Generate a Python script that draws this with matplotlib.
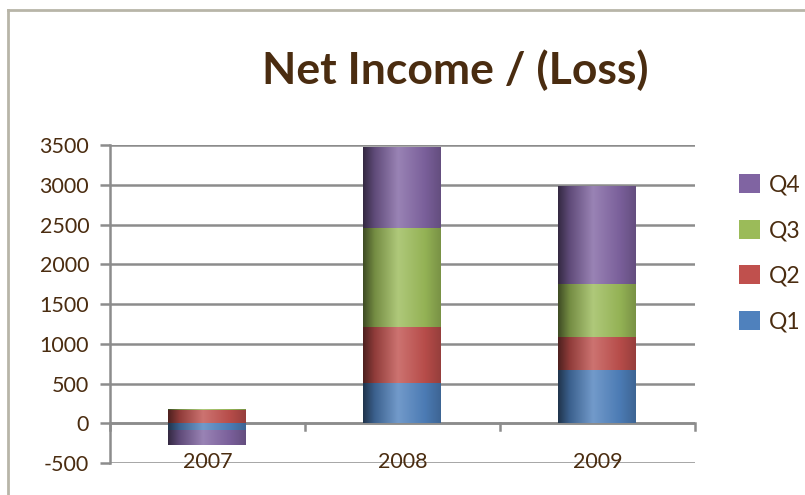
import numpy as np
import matplotlib
matplotlib.use("Agg")
import matplotlib.pyplot as plt
from matplotlib.colors import LinearSegmentedColormap, to_rgb
from matplotlib.lines import Line2D

plt.rcParams['font.family'] = ['Lato', 'DejaVu Sans']
plt.rcParams['axes.unicode_minus'] = False

years = ["2007", "2008", "2009"]
q1 = [-80, 510, 665]
q2 = [165, 700, 420]
q3 = [20, 1245, 670]
q4 = [-195, 1015, 1230]

series = [("Q1", q1, "#4F81BD"), ("Q2", q2, "#C0504D"),
          ("Q3", q3, "#9BBB59"), ("Q4", q4, "#8064A2")]

text_col = "#4A2C10"
grid_col = "#8C8C8C"

fig = plt.figure(figsize=(8.05, 4.95), dpi=100)
ax = fig.add_axes([0.1366, 0.0646, 0.7267, 0.6424])

x = np.arange(len(years))
width = 0.4
pos_base = np.zeros(len(years))
neg_base = np.zeros(len(years))


def shade_cmap(color):
    r, g, b = to_rgb(color)
    base = np.array([r, g, b])
    light = np.clip(base + (1 - base) * 0.2, 0, 1)
    stops = [(0.0, base * 0.4), (0.15, base * 0.75), (0.45, light),
             (0.8, base * 0.95), (1.0, base * 0.78)]
    return LinearSegmentedColormap.from_list("s", stops)


grad = np.linspace(0, 1, 256).reshape(1, -1)
handles = []
for name, vals, color in series:
    vals = np.array(vals, dtype=float)
    bottoms = np.where(vals >= 0, pos_base, neg_base)
    bars = ax.bar(x, vals, width, bottom=bottoms, color=color, label=name,
                  zorder=3, linewidth=0)
    cmap = shade_cmap(color)
    for p in bars.patches:
        x0, y0 = p.get_x(), p.get_y()
        x1, y1 = x0 + p.get_width(), y0 + p.get_height()
        im = ax.imshow(grad, cmap=cmap, aspect="auto", zorder=4,
                       extent=(x0, x1, min(y0, y1), max(y0, y1)),
                       interpolation="bilinear")
        im.set_clip_path(p)
    pos_base = pos_base + np.where(vals >= 0, vals, 0)
    neg_base = neg_base + np.where(vals < 0, vals, 0)
    handles.append(bars)

ax.set_xlim(-0.5, 2.5)
ax.set_ylim(-500, 3500)
ax.set_yticks(np.arange(-500, 3501, 500))
ax.yaxis.grid(True, color=grid_col, linewidth=1.8, zorder=0)
ax.set_axisbelow(True)

for s in ["top", "right", "bottom"]:
    ax.spines[s].set_visible(False)
ax.spines["left"].set_color(grid_col)
ax.spines["left"].set_linewidth(1.8)
ax.tick_params(axis="y", direction="out", length=7, width=1.8,
               color=grid_col, labelsize=15.5, labelcolor=text_col, pad=8)

# category axis sits at zero, with ticks between categories
ax.axhline(0, color=grid_col, linewidth=1.8, zorder=2)
ax.set_xticks([])
for b in np.arange(-0.5, 2.6, 1.0):
    ax.plot([b, b], [0, -80], color=grid_col, linewidth=1.8,
            clip_on=False, zorder=2)
for i, yr in enumerate(years):
    ax.text(i, -490, yr, ha="center", va="center", fontsize=15.5,
            color=text_col, zorder=5)

fig.text(0.566, 0.858, "Net Income / (Loss)", ha="center", va="center",
         fontsize=32, fontweight="bold", color=text_col)

leg = ax.legend(handles=handles[::-1], loc="center left",
                bbox_to_anchor=(1.04, 0.66), frameon=False, fontsize=16.5,
                handlelength=0.9, handleheight=0.9, handletextpad=0.4,
                labelspacing=1.05, labelcolor=text_col)

# outer chart border
frame_col = "#B8B5A8"
fig.add_artist(Line2D([8 / 805, 8 / 805], [0, 1 - 10 / 495],
                      transform=fig.transFigure, color=frame_col, linewidth=2))
fig.add_artist(Line2D([8 / 805, 1], [1 - 10 / 495, 1 - 10 / 495],
                      transform=fig.transFigure, color=frame_col, linewidth=2))

fig.savefig("out.png", dpi=100)
